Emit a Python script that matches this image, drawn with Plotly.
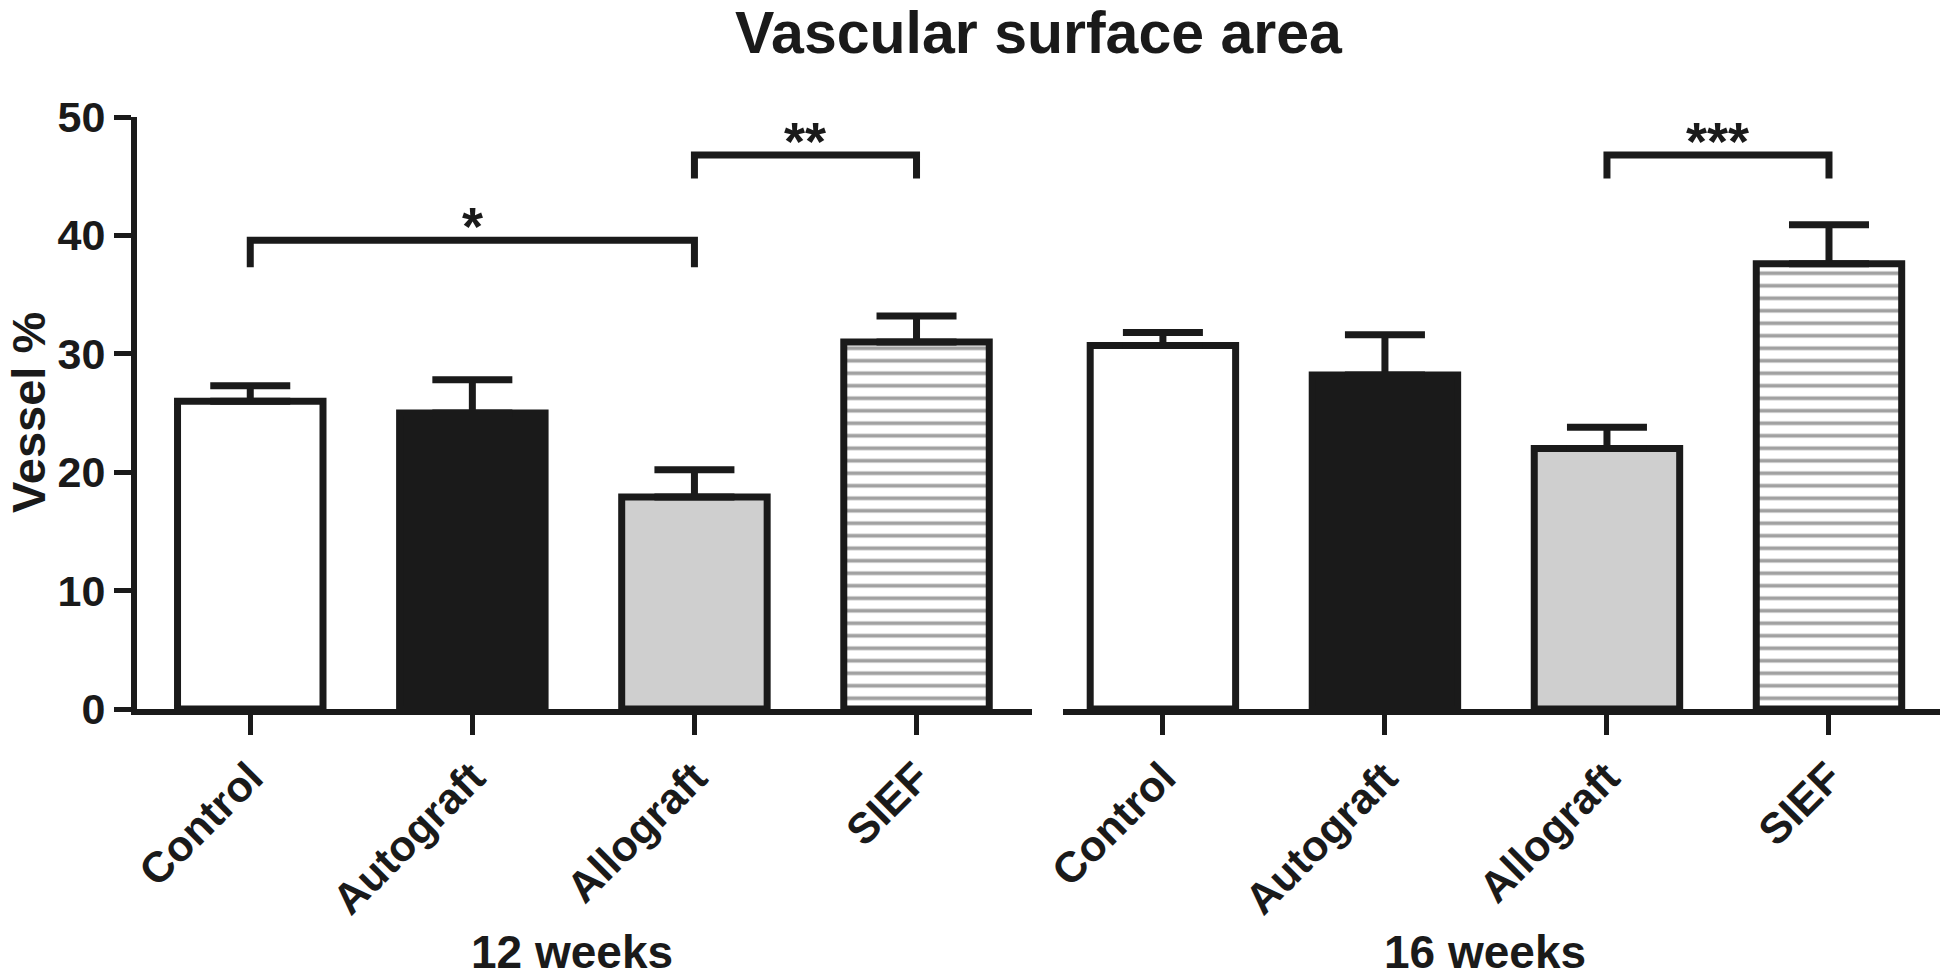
import plotly.graph_objects as go

# ---- data ----
groups = ["Control", "Autograft", "Allograft", "SIEF"]
weeks12_mean = [26.0, 25.0, 17.9, 31.0]
weeks12_sem = [1.3, 2.8, 2.3, 2.2]
weeks16_mean = [30.7, 28.2, 22.0, 37.6]
weeks16_sem = [1.1, 3.4, 1.8, 3.3]
panel_labels = ["12 weeks", "16 weeks"]

# significance comparisons: (panel, from, to, bracket top, leg bottom, label)
sig_panel = ["x", "x", "x2"]
sig_from = ["Control", "Allograft", "Allograft"]
sig_to = ["Allograft", "SIEF", "SIEF"]
sig_top = [39.6, 46.8, 46.8]
sig_leg = [37.3, 44.8, 44.8]
sig_text = ["*", "**", "***"]

y_ticks = [0, 10, 20, 30, 40, 50]

# ---- styles ----
INK = "#1a1a1a"
fills = ["#ffffff", "#1a1a1a", "#cfcfcf", "#ffffff"]
patterns = ["", "", "", "-"]
FONT = "Liberation Sans"
LW = 7

fig = go.Figure()

for xa, means, sems in [("x", weeks12_mean, weeks12_sem), ("x2", weeks16_mean, weeks16_sem)]:
    fig.add_trace(go.Bar(
        x=groups, y=means, xaxis=xa, yaxis="y",
        width=0.655,
        marker=dict(color=fills, line=dict(color=INK, width=LW),
                    pattern=dict(shape=patterns, fgcolor="#000000", size=12.5, solidity=0.3)),
        error_y=dict(type="data", symmetric=False, array=sems, arrayminus=[0] * len(sems),
                     thickness=LW, width=40, color=INK),
        showlegend=False, hoverinfo="skip",
    ))

annotations = []
for xa, a, b, top, leg, txt in zip(sig_panel, sig_from, sig_to, sig_top, sig_leg, sig_text):
    fig.add_trace(go.Scatter(
        x=[a, a, b, b], y=[leg, top, top, leg], xaxis=xa, yaxis="y",
        mode="lines", line=dict(color=INK, width=LW), showlegend=False, hoverinfo="skip",
    ))
    ia, ib = groups.index(a), groups.index(b)
    annotations.append(dict(
        x=(ia + ib) / 2, y=top + 2.2, xref=xa, yref="y", text=txt, showarrow=False,
        yanchor="middle", yshift=-12,
        font=dict(family=FONT, size=54, color=INK, weight="bold"),
    ))

for xa, lab in zip(["x", "x2"], panel_labels):
    annotations.append(dict(
        x=1.45, xref=xa, y=0, yref="paper", yshift=-243, yanchor="middle",
        text=lab, showarrow=False,
        font=dict(family=FONT, size=46, color=INK, weight="bold"),
    ))

annotations.append(dict(
    x=0.5, xref="paper", y=1, yref="paper", yshift=84, yanchor="middle",
    text="Vascular surface area", showarrow=False,
    font=dict(family=FONT, size=59, color=INK, weight="bold"),
))
annotations.append(dict(
    x=0, xref="paper", xshift=-109, xanchor="center", y=0.5, yref="paper", textangle=-90,
    text="Vessel %", showarrow=False,
    font=dict(family=FONT, size=47, color=INK, weight="bold"),
))

xaxis_common = dict(
    type="category", showline=True, linewidth=6, linecolor=INK,
    ticks="outside", ticklen=20, tickwidth=5, tickcolor=INK,
    tickangle=-45, showgrid=False, zeroline=False, automargin=False,
    tickfont=dict(family=FONT, size=43, color=INK, weight="bold"),
    anchor="y", fixedrange=True,
)

# page body has an 8px margin, so the figure is sized to fit the window
fig.update_layout(
    width=1942, height=969,
    margin=dict(l=129, r=10, t=109, b=268, autoexpand=False),
    paper_bgcolor="white", plot_bgcolor="white",
    xaxis=dict(domain=[0, 895 / 1803], range=[-0.51, 3.52], **xaxis_common),
    xaxis2=dict(domain=[926 / 1803, 1.0], range=[-0.45, 3.5], **xaxis_common),
    yaxis=dict(range=[0, 50], tickvals=y_ticks, showline=True, linewidth=6, linecolor=INK,
               ticks="outside", ticklen=17, tickwidth=5, tickcolor=INK,
               showgrid=False, zeroline=False, anchor="x", automargin=False,
               tickfont=dict(family=FONT, size=43, color=INK, weight="bold")),
    annotations=annotations,
)

fig.write_html("out.html")
